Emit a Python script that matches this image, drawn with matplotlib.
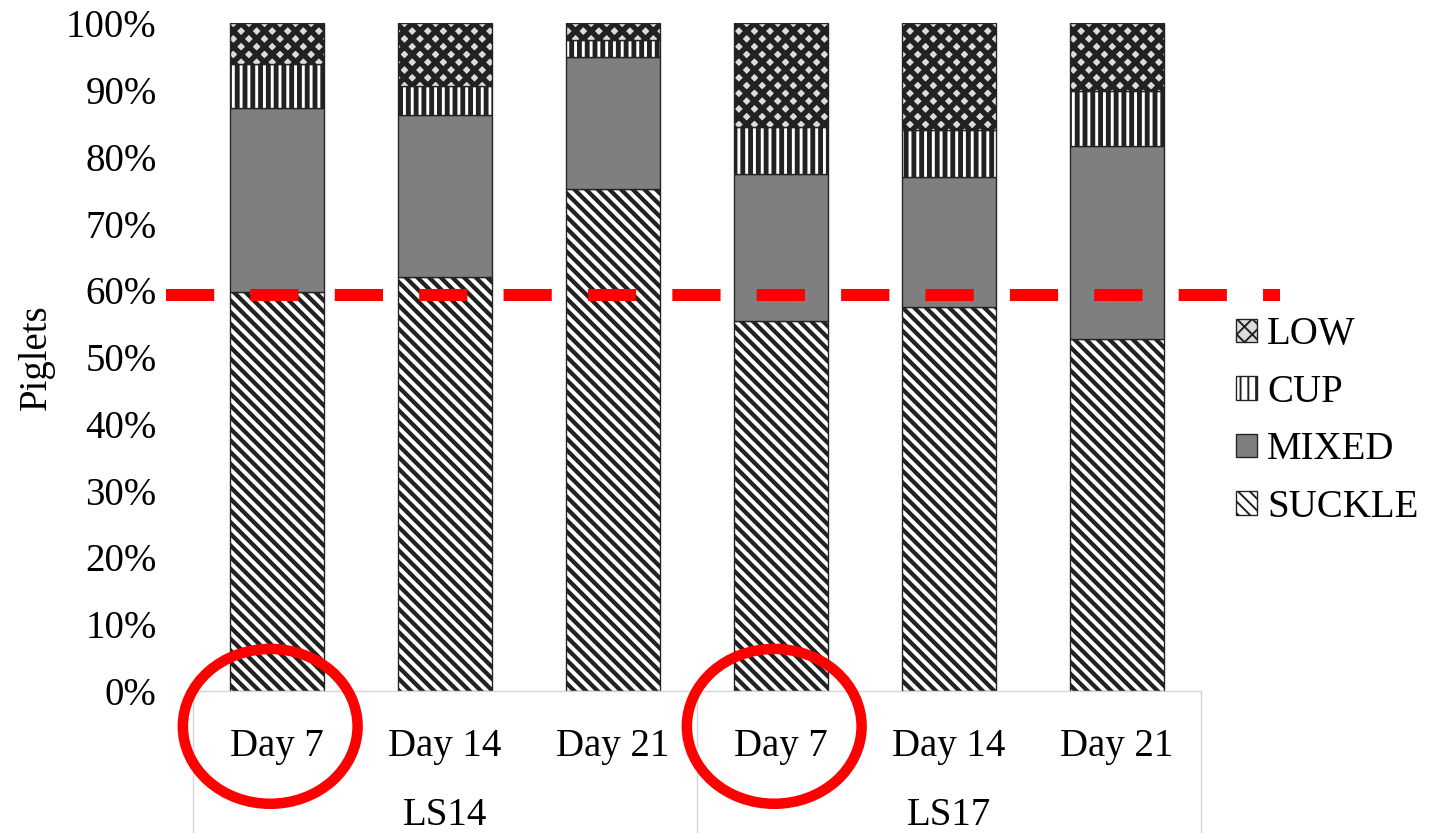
import matplotlib.pyplot as plt
import matplotlib.transforms as mtransforms
from matplotlib.lines import Line2D
from matplotlib.patches import Ellipse

plt.rcParams['font.family'] = ['Liberation Serif', 'DejaVu Serif']

# data (share of piglets)
days = ['Day 7', 'Day 14', 'Day 21', 'Day 7', 'Day 14', 'Day 21']
groups = ['LS14', 'LS17']
suckle = [0.597, 0.620, 0.752, 0.554, 0.576, 0.528]
mixed = [0.277, 0.243, 0.198, 0.220, 0.194, 0.288]
cup = [0.065, 0.043, 0.025, 0.071, 0.070, 0.083]
low = [0.061, 0.094, 0.025, 0.155, 0.160, 0.101]
threshold = 0.593
circled = [0, 3]

x = list(range(len(days)))
# dpi 140 so the hatch tiles come out at the reference density
fig = plt.figure(figsize=(1455 / 140, 833 / 140), dpi=140)
ax = fig.add_axes([0.1326, 0.1705, 0.6928, 0.8013])

w = 0.56
bottom = [0] * len(x)
styles = [
    ('SUCKLE', suckle, 'white', '\\' * 4, 2.2),
    ('MIXED', mixed, '#7f7f7f', None, 1.0),
    ('CUP', cup, 'white', '|||', 2.5),
    ('LOW', low, '#dcdcdc', 'xxx', 2.8),
]
handles = []
for name, vals, fc, hatch, hlw in styles:
    with plt.rc_context({'hatch.linewidth': hlw}):
        bars = ax.bar(x, vals, w, bottom=bottom, color=fc, edgecolor='#222222',
                      linewidth=0.7, hatch=hatch, label=name)
    for b in bars:
        if hasattr(b, 'set_hatch_linewidth'):
            b.set_hatch_linewidth(hlw)
    handles.append(bars)
    bottom = [b0 + v for b0, v in zip(bottom, vals)]

ax.set_xlim(-0.5, 5.5)
ax.set_ylim(0, 1)
ax.set_yticks([i / 10 for i in range(11)])
ax.set_yticklabels([f'{i * 10}%' for i in range(11)])
ax.set_xticks(x)
ax.set_xticklabels(days)
ax.tick_params(axis='y', length=0, pad=18.6, labelsize=20)
ax.tick_params(axis='x', length=0, pad=18.8, labelsize=20)
for s in ['top', 'right', 'left']:
    ax.spines[s].set_visible(False)
ax.spines['bottom'].set_color('#d4d4d4')
ax.spines['bottom'].set_linewidth(0.7)
ax.set_ylabel('Piglets', fontsize=20, labelpad=5.7)

# threshold line
ax.plot([-0.66, 5.97], [threshold, threshold], color='#ff0000', lw=6.2,
        dashes=(4, 3), solid_capstyle='butt', dash_capstyle='butt', clip_on=False, zorder=5)

# category table below axis
trans = mtransforms.blended_transform_factory(ax.transData, ax.transAxes)
for xv in [-0.5, 2.5, 5.5]:
    ax.add_line(Line2D([xv, xv], [0, -0.25], transform=trans, color='#d4d4d4',
                       lw=0.7, clip_on=False))
for i, g in enumerate(groups):
    ax.text(1 + 3 * i, -0.2007, g, transform=trans, ha='center', va='baseline', fontsize=20)

# red circles around Day 7
for ci in circled:
    ax.add_patch(Ellipse((ci - 0.04, -0.053), 1.04, 0.232, transform=trans, fill=False,
                         edgecolor='#ff0000', lw=5.4, clip_on=False, zorder=6))

leg = fig.legend(handles[::-1], [s[0] for s in styles][::-1], loc='upper left',
                 bbox_to_anchor=(1236 / 1455, 1 - 316 / 833), frameon=False, fontsize=20,
                 handlelength=0.55, handleheight=0.55, handletextpad=0.25,
                 labelspacing=0.53, borderpad=0, borderaxespad=0)

fig.savefig('out.png', dpi=140)
